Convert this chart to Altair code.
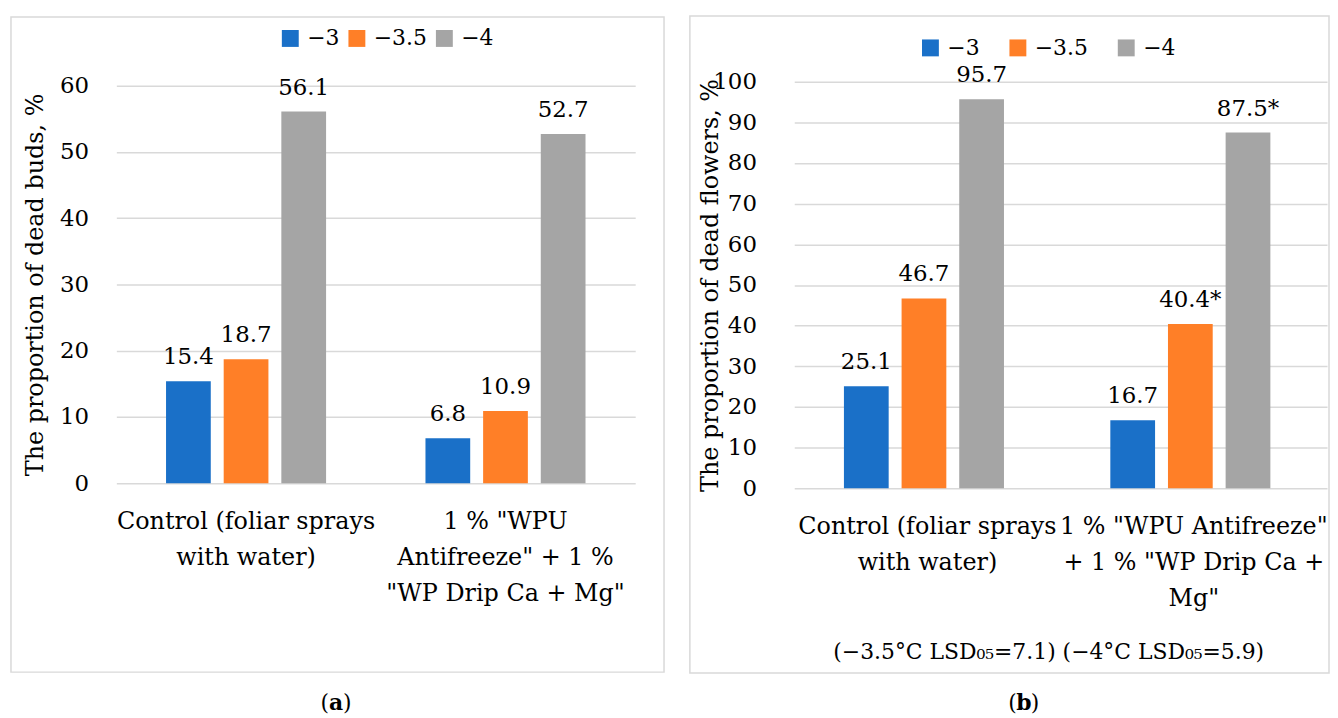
import json
import altair as alt
import pandas as pd

FONT = "DejaVu Serif"

categories = ['Control (foliar sprays with water)', '1 % "WPU Antifreeze" + 1 % "WP Drip Ca + Mg"']
series = ["\u22123", "\u22123.5", "\u22124"]
colors = ["#1A70C8", "#FF7F27", "#A5A5A5"]

buds_control = [15.4, 18.7, 56.1]
buds_treated = [6.8, 10.9, 52.7]
buds_text_control = ["15.4", "18.7", "56.1"]
buds_text_treated = ["6.8", "10.9", "52.7"]

flowers_control = [25.1, 46.7, 95.7]
flowers_treated = [16.7, 40.4, 87.5]
flowers_text_control = ["25.1", "46.7", "95.7"]
flowers_text_treated = ["16.7", "40.4*", "87.5*"]

buds_xlabels = [["Control (foliar sprays", "with water)"],
                ['1 % "WPU', 'Antifreeze" + 1 %', '"WP Drip Ca + Mg"']]
flowers_xlabels = [["Control (foliar sprays", "with water)"],
                   ['1 % "WPU Antifreeze"', '+ 1 % "WP Drip Ca +', 'Mg"']]

buds_ticks = [0, 10, 20, 30, 40, 50, 60]
flowers_ticks = [0, 10, 20, 30, 40, 50, 60, 70, 80, 90, 100]

lsd_note = "(\u22123.5\u00b0C LSD\u2080\u2085=7.1) (\u22124\u00b0C LSD\u2080\u2085=5.9)"

FS = 24        # axis titles and category labels
FS_TICK = 23   # y tick labels
FS_VAL = 23    # value labels on bars
FS_LEG = 22    # legend labels


def make_df(v1, v2, t1, t2):
    rows = []
    for cat, vals, txts in ((categories[0], v1, t1), (categories[1], v2, t2)):
        for s, v, t in zip(series, vals, txts):
            rows.append({"category": cat, "series": s, "value": v, "label": t})
    return pd.DataFrame(rows)


def caption(letter, cx, cy):
    mid = alt.Chart(pd.DataFrame({"t": [letter]})).mark_text(
        font=FONT, fontSize=22, fontWeight="bold", color="black",
        baseline="middle", align="center").encode(
        text="t:N", x=alt.value(cx), y=alt.value(cy))
    lp = alt.Chart(pd.DataFrame({"t": ["("]})).mark_text(
        font=FONT, fontSize=22, color="black", baseline="middle", align="right").encode(
        text="t:N", x=alt.value(cx - 7), y=alt.value(cy))
    rp = alt.Chart(pd.DataFrame({"t": [")"]})).mark_text(
        font=FONT, fontSize=22, color="black", baseline="middle", align="left").encode(
        text="t:N", x=alt.value(cx + 7), y=alt.value(cy))
    return [lp, mid, rp]


def panel(df, xlines, ticks, ytitle, W, H, yrange, pi, po, legend_x, legend_y, col_pad,
          label_pad, title_x, border, cap, extra=None):
    label_expr = "datum.value == %s ? %s : %s" % (
        json.dumps(categories[0]), json.dumps(xlines[0]), json.dumps(xlines[1]))
    base = alt.Chart(df).encode(
        x=alt.X("category:N", sort=categories,
                scale=alt.Scale(paddingInner=0, paddingOuter=0),
                axis=alt.Axis(title=None, labelExpr=label_expr, labelFont=FONT,
                              labelFontSize=FS, labelColor="black", labelAngle=0,
                              labelBaseline="top", labelPadding=27, labelLineHeight=36,
                              labelLimit=600, labelOverlap=False, labelFlush=False,
                              domain=False, ticks=False, grid=False)),
        xOffset=alt.XOffset("series:N", sort=series,
                            scale=alt.Scale(paddingInner=pi, paddingOuter=po)),
        y=alt.Y("value:Q",
                scale=alt.Scale(domain=[ticks[0], ticks[-1]], nice=False, range=yrange),
                axis=alt.Axis(title=ytitle, values=ticks, grid=True, gridColor="#D9D9D9",
                              gridWidth=1.5, domain=False, ticks=False, labelFont=FONT,
                              labelFontSize=FS_TICK, labelColor="black",
                              labelPadding=label_pad,
                              titleFont=FONT, titleFontSize=FS, titleFontWeight="normal",
                              titleColor="black", titleX=title_x,
                              titleY=(yrange[0] + yrange[1]) / 2,
                              titleBaseline="middle", titleAlign="center", titleAngle=-90)),
    )
    bars = base.mark_bar().encode(
        color=alt.Color("series:N", sort=series,
                        scale=alt.Scale(domain=series, range=colors),
                        legend=alt.Legend(title=None, orient="none", legendX=legend_x,
                                          legendY=legend_y, direction="horizontal",
                                          columns=3, columnPadding=col_pad,
                                          symbolType="square", symbolSize=289,
                                          symbolStrokeWidth=0, labelFont=FONT,
                                          labelFontSize=FS_LEG, labelColor="black",
                                          labelOffset=6, padding=0, labelLimit=200)))
    texts = base.mark_text(font=FONT, fontSize=FS_VAL, color="black", baseline="alphabetic",
                           dy=-17).encode(text="label:N")
    bx, bx2, by, by2 = border
    frame = alt.Chart(pd.DataFrame({"k": [0]})).mark_rect(
        filled=False, stroke="#D9D9D9", strokeWidth=1.5).encode(
        x=alt.value(bx), x2=alt.value(bx2), y=alt.value(by), y2=alt.value(by2))
    layers = [frame, bars, texts] + caption(*cap)
    if extra is not None:
        layers.append(extra)
    return alt.layer(*layers).properties(width=W, height=H)


df_a = make_df(buds_control, buds_treated, buds_text_control, buds_text_treated)
df_b = make_df(flowers_control, flowers_treated, flowers_text_control, flowers_text_treated)

note = alt.Chart(pd.DataFrame({"t": [lsd_note]})).mark_text(
    font=FONT, fontSize=22, color="black", baseline="middle", align="center").encode(
    text="t:N", x=alt.value(256), y=alt.value(570))

panel_a = panel(df_a, buds_xlabels, buds_ticks, "The proportion of dead buds, %",
                522, 400, [400, 0], 0.224, 0.862, 164, -58.5, 6, 28, -81,
                (-106, 551, -69, 590), ("a", 221, 621))
panel_b = panel(df_b, flowers_xlabels, flowers_ticks, "The proportion of dead flowers, %",
                536, 405, [405, -4], 0.233, 0.85, 126, -49, 27, 38, -84,
                (-105, 538, -70, 591), ("b", 231, 621), extra=note)

chart = alt.hconcat(panel_a, panel_b, spacing=24).resolve_scale(
    color="independent").resolve_legend(color="independent").configure(
    padding={"left": 2, "top": 5, "right": 0, "bottom": 0}).configure_view(stroke=None)

chart.save("out.html", embed_options={"renderer": "svg", "actions": False})
